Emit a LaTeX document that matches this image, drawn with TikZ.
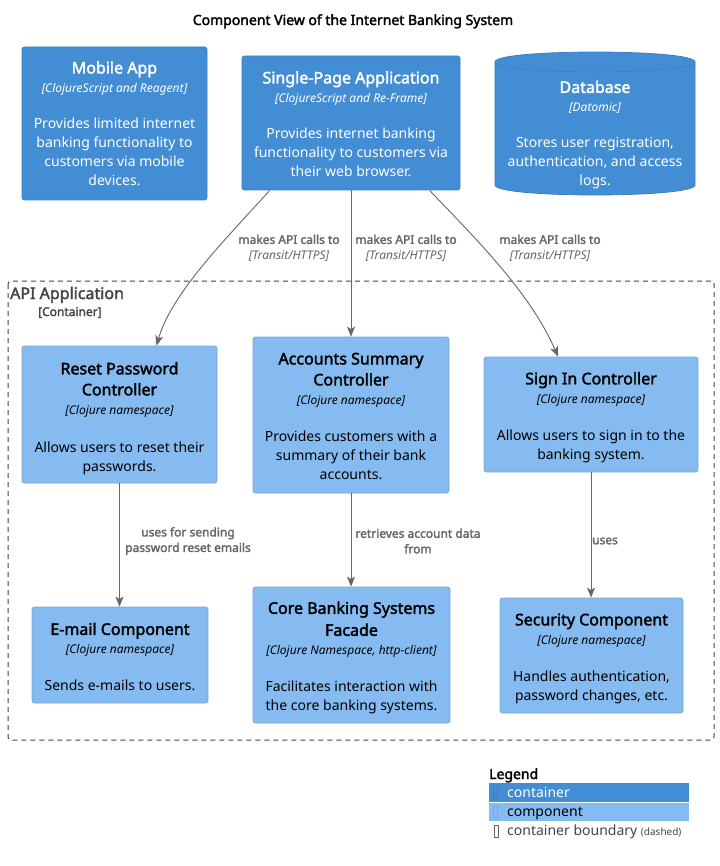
\documentclass[tikz,border=0pt]{standalone}
\usepackage{fontspec}
\setmainfont{Noto Sans}[AutoFakeBold=2.2]
\usetikzlibrary{arrows.meta}
\definecolor{ctr}{HTML}{438DD5}
\definecolor{ctrb}{HTML}{3C7FC0}
\definecolor{cmp}{HTML}{85BBF0}
\definecolor{cmpb}{HTML}{78A8D8}
\definecolor{arr}{HTML}{666666}
\definecolor{bnd}{HTML}{444444}
\newcommand\ttl[1]{{\fontsize{16}{19}\selectfont\bfseries #1}}
\newcommand\stp[1]{{\fontsize{12}{19}\selectfont\itshape [#1]}}
\newcommand\lit[1]{{\mdseries\itshape #1}}
\newcommand\dn[1]{\rule{0pt}{#1}}
\begin{document}
\begin{tikzpicture}[x=1pt,y=-1pt,
  base/.style={align=center,inner sep=0pt,font=\fontsize{14}{19}\selectfont,rounded corners=2.5pt},
  ctrbox/.style={base,fill=ctr,draw=ctrb,line width=0.8pt,text=white},
  cmpbox/.style={base,fill=cmp,draw=cmpb,line width=0.8pt,text=black},
  conn/.style={draw=arr,line width=0.9pt,-{Stealth[length=10pt,width=8pt,inset=2.5pt]}},
  lbl/.style={align=center,inner sep=0pt,text=arr,font=\fontsize{12}{15.5}\selectfont\bfseries}]
\useasboundingbox (0,0) rectangle (719,866);

% title
\node[anchor=base,font=\fontsize{14}{17}\selectfont\bfseries] (title) at (353,25) {Component View of the Internet Banking System};

% containers
\node[ctrbox,minimum width=185pt,minimum height=153pt] (mobile) at (114.5,123.5)
 {\ttl{Mobile App}\\ \stp{ClojureScript and Reagent}\\[17pt] Provides limited internet\\ banking functionality to\\ customers via mobile\\ devices.};
\node[ctrbox,minimum width=218pt,minimum height=134pt] (spa) at (351,123)
 {\dn{14pt}\ttl{Single-Page Application}\\ \stp{ClojureScript and Re-Frame}\\[17pt] Provides internet banking\\ functionality to customers via\\ their web browser.};

% database cylinder
\path[fill=ctr,draw=ctrb,line width=0.8pt] (495,62) -- (495,185) .. controls (495,198.3) and (695,198.3) .. (695,185)
  -- (695,62) .. controls (695,48.7) and (495,48.7) .. (495,62) -- cycle;
\draw[ctrb,line width=0.6pt] (495,62) .. controls (495,75.3) and (695,75.3) .. (695,62);
\node[base,text=white] (db) at (595,135)
 {\ttl{Database}\\ \stp{Datomic}\\[17pt] Stores user registration,\\ authentication, and access\\ logs.};

% boundary
\draw[bnd,dash pattern=on 5pt off 4pt,line width=1pt,rounded corners=3pt] (8,281) rectangle (714,740);
\node[anchor=base west,text=bnd,font=\fontsize{16}{19}\selectfont,inner sep=0pt] (bname) at (10,299) {\bfseries API Application};
\node[anchor=base west,text=bnd,font=\fontsize{12}{15}\selectfont,inner sep=0pt] (btype) at (38,316) {\bfseries [Container]};

% components
\node[cmpbox,minimum width=195pt,minimum height=137pt] (reset) at (119.5,414.5)
 {\dn{20pt}\ttl{Reset Password}\\[2pt] \ttl{Controller}\\ \stp{Clojure namespace}\\[19pt] Allows users to reset their\\ passwords.};
\node[cmpbox,minimum width=196pt,minimum height=156pt] (accts) at (351,415)
 {\dn{14pt}\ttl{Accounts Summary}\\[2pt] \ttl{Controller}\\ \stp{Clojure namespace}\\[18pt] Provides customers with a\\ summary of their bank\\ accounts.};
\node[cmpbox,minimum width=214pt,minimum height=115pt] (signin) at (591,414.5)
 {\dn{18pt}\ttl{Sign In Controller}\\ \stp{Clojure namespace}\\[18pt] Allows users to sign in to the\\ banking system.};
\node[cmpbox,minimum width=176pt,minimum height=96pt] (email) at (120,655)
 {\dn{16pt}\ttl{E-mail Component}\\ \stp{Clojure namespace}\\[18pt] Sends e-mails to users.};
\node[cmpbox,minimum width=197pt,minimum height=136pt] (core) at (351.5,655)
 {\dn{18pt}\ttl{Core Banking Systems}\\[3pt] \ttl{Facade}\\ \stp{Clojure Namespace, http-client}\\[18pt] Facilitates interaction with\\ the core banking systems.};
\node[cmpbox,minimum width=183pt,minimum height=115pt] (sec) at (591.5,655.5)
 {\dn{18pt}\ttl{Security Component}\\ \stp{Clojure namespace}\\[18pt] Handles authentication,\\ password changes, etc.};

% connectors
\draw[conn] ([xshift=28pt]spa.south west) .. controls (228,237) and (172,292) .. ([xshift=37pt]reset.north);
\draw[conn] (spa.south) -- (accts.north);
\draw[conn] ([xshift=188pt]spa.south west) .. controls (474,237) and (530,292) .. ([xshift=-33pt]signin.north);
\draw[conn] (reset.south) -- (reset.south |- email.north);
\draw[conn] (accts.south) -- (accts.south |- core.north);
\draw[conn] (signin.south) -- (signin.south |- sec.north);

% connector labels
\node[lbl] (l1) at (289,248) {makes API calls to\\ \lit{[Transit/HTTPS]}};
\node[lbl] (l2) at (406,248) {makes API calls to\\ \lit{[Transit/HTTPS]}};
\node[lbl] (l3) at (550,248) {makes API calls to\\ \lit{[Transit/HTTPS]}};
\node[lbl] (l4) at (188,541) {uses for sending\\ password reset emails};
\node[lbl] (l5) at (418,541) {retrieves account data\\ from};
\node[lbl] (l6) at (605,541) {uses};

% legend
\node[anchor=base west,inner sep=0pt,font=\fontsize{14}{17}\selectfont\bfseries] (leg) at (489,779) {Legend};
\fill[ctr] (489,783) rectangle (689,802);
\fill[cmp] (489,803) rectangle (689,821);
\draw[ctrb,line width=0.6pt] (493.5,787.5) rectangle (497,798.5);
\draw[cmpb,line width=0.6pt] (493.5,806.5) rectangle (497,817.5);
\draw[arr,line width=0.6pt] (494.5,825.5) rectangle (498,837.5);
\node[anchor=base west,inner sep=0pt,text=white,font=\fontsize{14}{17}\selectfont] (lg1) at (507,797) {container};
\node[anchor=base west,inner sep=0pt,text=black,font=\fontsize{14}{17}\selectfont] (lg2) at (507,816) {component};
\node[anchor=base west,inner sep=0pt,text=bnd,font=\fontsize{14}{17}\selectfont] (lg3) at (507,835) {container boundary {\fontsize{10}{12}\selectfont(dashed)}};
\end{tikzpicture}
\end{document}
